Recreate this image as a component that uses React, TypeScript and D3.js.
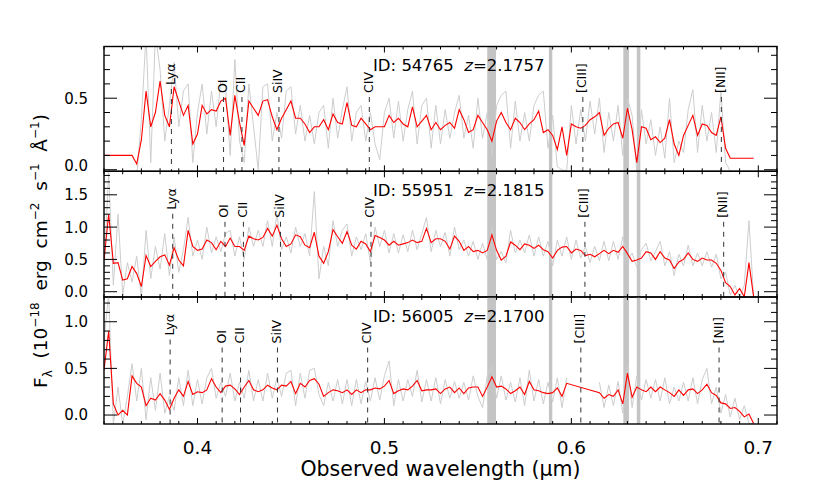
import React from 'react';
import * as d3 from 'd3';

// ---------------- data ----------------
const LAM_START = 0.35; // micron, first sample of the wavelength grid
const LAM_STEP = 0.0025; // micron per sample
const X_DOMAIN: [number, number] = [0.35, 0.71];
const X_MAJOR = [0.4, 0.5, 0.6, 0.7];

const ids = ['54765', '55951', '56005'];
const zLabels = ['2.1757', '2.1815', '2.1700'];
const zValues = [2.1757, 2.1815, 2.17];

const lineNames = ['Lyα', 'OI', 'CII', 'SiIV', 'CIV', '[CIII]', '[NII]'];
const lineRest = [1215.67, 1303.5, 1334.5, 1396.8, 1549.0, 1908.7, 2142.0]; // Angstrom

const skyBands: [number, number][] = [
  [0.555, 0.5597],
  [0.588, 0.5898],
  [0.6278, 0.6308],
  [0.635, 0.6369],
];

const yDomains: [number, number][] = [
  [-0.011, 0.8615],
  [-0.082, 1.864],
  [-0.096, 1.265],
];
const yMajor = [
  [0, 0.5],
  [0, 0.5, 1.0, 1.5],
  [0, 0.5, 1.0],
];

type V = number | null;

const red1: V[] = [
  0.10, 0.10, 0.10, 0.10, 0.10, 0.10, 0.10,
  0.04, 0.21, 0.55, 0.30, 0.40, 0.62, 0.38, 0.30, 0.58, 0.48, 0.38, 0.45, 0.18, 0.25,
  0.45, 0.39, 0.42, 0.41, 0.48, 0.50, 0.24, 0.52, 0.33, 0.17,
  0.48, 0.43, 0.38, 0.48, 0.49, 0.37, 0.28, 0.36, 0.42, 0.48,
  0.36, 0.36, 0.32, 0.26, 0.30, 0.30, 0.35, 0.28, 0.39, 0.33,
  0.32, 0.47, 0.31, 0.30, 0.36, 0.32, 0.28, 0.30, 0.30, 0.30,
  0.38, 0.33, 0.36, 0.32, 0.30, 0.44, 0.30, 0.34, 0.38, 0.28,
  0.33, 0.28, 0.31, 0.33, 0.29, 0.42, 0.35, 0.26, 0.28, 0.38,
  0.33, 0.28, 0.20, 0.34, 0.40, 0.33, 0.28, 0.36, 0.33, 0.28,
  0.32, 0.35, 0.41, 0.26, 0.28, 0.24, 0.14, 0.30, 0.10, 0.32,
  0.30, 0.29, 0.31, 0.35, 0.37, 0.40, 0.24, 0.29, 0.32, 0.33,
  0.22, 0.43, 0.28, 0.05, 0.30, 0.29, 0.21, 0.23, 0.19, 0.22,
  0.35, 0.18, 0.10, 0.24, 0.31, 0.38, 0.24, 0.32, 0.31, 0.26,
  0.24, 0.37, 0.15, 0.08, 0.08, 0.08, 0.08, 0.08, 0.08,
];
const grey1: V[] = [
  null, null, null, null, null, null, null,
  -0.05, 0.35, 0.95, 0.05, 0.95, 0.70, 0.20, 0.45, 0.75, 0.30, 0.55, 0.60, 0.05, 0.40,
  0.60, 0.25, 0.55, 0.30, 0.62, 0.58, 0.10, 0.77, 0.20, 0.05,
  0.60, 0.30, 0.00, 0.58, 0.60, 0.20, 0.40, 0.22, 0.55, 0.58,
  0.25, 0.45, 0.20, 0.38, 0.18, 0.40, 0.45, 0.15, 0.50, 0.22,
  0.42, 0.58, 0.20, 0.40, 0.45, 0.20, 0.40, 0.18, 0.07, 0.40,
  0.50, 0.22, 0.48, 0.20, 0.42, 0.55, 0.18, 0.45, 0.50, 0.15,
  0.45, 0.18, 0.42, 0.22, 0.40, 0.52, 0.22, 0.38, 0.15, 0.50,
  0.22, 0.40, 0.10, 0.45, 0.52, 0.55, 0.15, 0.48, 0.20, 0.40,
  0.20, 0.45, 0.52, 0.55, 0.15, 0.38, 0.02, 0.00, -0.01, 0.45,
  0.18, 0.42, 0.20, 0.48, 0.25, 0.50, 0.12, 0.40, 0.20, 0.45,
  0.10, 0.50, 0.38, -0.01, 0.42, 0.18, 0.35, 0.10, 0.30, 0.08,
  0.50, 0.05, 0.20, 0.12, 0.42, 0.56, 0.12, 0.45, 0.20, 0.40,
  0.12, 0.55, 0.05, -0.01, null, null, null, null, null,
];

const red2: V[] = [
  0.49, 1.20, 0.44, 0.45, 0.18, 0.20, 0.39, 0.28, 0.08, 0.56,
  0.39, 0.47, 0.54, 0.57, 0.41, 0.68, 0.49, 0.40, 0.95, 0.70,
  0.64, 0.66, 0.80, 0.76, 0.65, 0.78, 0.70, 0.83, 0.70, 0.70,
  0.64, 0.86, 0.82, 0.80, 0.84, 0.98, 0.86, 1.03, 0.82, 0.70,
  0.74, 0.88, 0.85, 0.72, 0.68, 0.92, 0.55, 0.44, 0.62, 0.96,
  0.85, 0.75, 0.93, 0.72, 0.66, 0.78, 0.74, 0.62, 0.87, 0.84,
  0.80, 0.72, 0.78, 0.72, 0.74, 0.76, 0.80, 0.76, 0.78, 0.98,
  0.76, 0.82, 0.82, 0.78, 0.66, 0.86, 0.78, 0.64, 0.70, 0.62,
  0.64, 0.60, 0.64, 0.88, 0.64, 0.49, 0.55, 0.77, 0.72, 0.65,
  0.74, 0.72, 0.67, 0.72, 0.65, 0.62, 0.52, 0.64, 0.69, 0.70,
  0.60, 0.66, 0.64, 0.56, 0.58, 0.54, 0.59, 0.64, 0.59, 0.64,
  0.61, 0.70, 0.59, 0.47, 0.49, 0.52, 0.62, 0.60, 0.50, 0.62,
  0.52, 0.49, 0.36, 0.46, 0.50, 0.60, 0.50, 0.47, 0.52, 0.49,
  0.49, 0.44, 0.33, 0.14, 0.08, -0.05, 0.05, -0.08, 0.45, -0.08,
];
const grey2: V[] = [
  0.30, 1.85, 0.10, 1.20, -0.05, 0.45, 0.15, 0.55, -0.09, 0.95,
  0.20, 0.70, 0.35, 0.90, 0.25, 0.85, 0.30, 0.65, 1.15, 0.55,
  0.80, 0.50, 1.00, 0.60, 0.85, 0.62, 0.90, 0.95, 0.55, 0.85,
  0.50, 1.00, 0.70, 0.95, 0.70, 1.10, 0.70, 1.20, 0.65, 0.85,
  0.60, 1.00, 0.70, 0.90, 0.55, 1.55, 0.20, 0.70, 0.40, 1.10,
  0.70, 0.95, 1.05, 0.55, 0.85, 0.65, 0.90, 0.45, 1.00, 0.70,
  0.95, 0.60, 0.90, 0.60, 0.88, 0.62, 0.95, 0.65, 0.90, 1.15,
  0.62, 0.95, 0.70, 0.92, 0.55, 1.00, 0.65, 0.80, 0.55, 0.78,
  0.50, 0.75, 0.50, 1.00, 0.50, 0.62, 0.45, 0.95, 0.60, 0.80,
  0.60, 0.88, 0.55, 0.85, 0.55, 0.78, 0.40, 0.80, 0.55, 0.85,
  0.50, 0.80, 0.52, 0.70, 0.45, 0.70, 0.48, 0.78, 0.48, 0.78,
  0.50, 0.85, 0.48, 0.60, 0.38, 0.65, 0.75, 0.48, 0.62, 0.78,
  0.40, 0.62, 0.25, 0.58, 0.40, 0.72, 0.40, 0.60, 0.40, 0.62,
  0.38, 0.58, 0.20, 0.30, -0.05, 0.10, -0.09, 0.10, 1.10, -0.09,
];

const red3: V[] = [
  0.48, 0.90, 0.12, 0.00, 0.05, 0.00, 0.42, 0.34, 0.30, 0.10,
  0.18, 0.16, 0.23, 0.16, 0.06, 0.18, 0.27, 0.20, 0.36, 0.22,
  0.25, 0.24, 0.27, 0.39, 0.30, 0.24, 0.31, 0.32, 0.28, 0.22,
  0.30, 0.37, 0.27, 0.25, 0.27, 0.32, 0.29, 0.27, 0.32, 0.31,
  0.36, 0.23, 0.34, 0.30, 0.37, 0.39, 0.33, 0.20, 0.24, 0.27,
  0.26, 0.24, 0.27, 0.22, 0.27, 0.24, 0.27, 0.27, 0.29, 0.28,
  0.31, 0.37, 0.23, 0.26, 0.28, 0.27, 0.31, 0.37, 0.26, 0.27,
  0.27, 0.28, 0.23, 0.28, 0.30, 0.24, 0.29, 0.23, 0.29, 0.30,
  0.30, 0.20, 0.30, 0.41, 0.30, 0.31, 0.28, 0.23, 0.26, 0.30,
  0.22, 0.36, 0.27, 0.26, 0.24, 0.23, 0.24, 0.29, 0.20, 0.34,
  null, null, null, null, null, null, 0.24, 0.18, 0.22, 0.20,
  0.27, 0.12, 0.45, 0.19, 0.30, 0.27, 0.25, 0.30, 0.25, 0.30,
  0.27, 0.24, 0.20, 0.27, 0.21, 0.27, 0.28, 0.23, 0.27, 0.33,
  0.24, 0.21, 0.13, 0.12, 0.07, 0.08, 0.04, -0.02, 0.01, -0.09,
];
const grey3: V[] = [
  0.80, 1.30, -0.10, 0.30, -0.10, 0.20, 0.55, 0.15, 0.50, -0.05,
  0.40, 0.05, 0.45, 0.02, 0.20, 0.05, 0.40, 0.10, 0.48, 0.10,
  0.38, 0.12, 0.40, 0.50, 0.18, 0.35, 0.20, 0.45, 0.15, 0.35,
  0.18, 0.48, 0.15, 0.38, 0.15, 0.45, 0.18, 0.40, 0.20, 0.45,
  0.48, 0.10, 0.45, 0.18, 0.48, 0.50, 0.22, 0.10, 0.35, 0.15,
  0.38, 0.12, 0.38, 0.10, 0.38, 0.12, 0.36, 0.15, 0.40, 0.16,
  0.42, 0.58, 0.10, 0.38, 0.15, 0.38, 0.20, 0.48, 0.14, 0.38,
  0.15, 0.40, 0.12, 0.38, 0.18, 0.36, 0.18, 0.35, 0.16, 0.42,
  0.20, 0.08, 0.42, 0.52, 0.18, 0.42, 0.16, 0.35, 0.14, 0.40,
  0.10, 0.48, 0.15, 0.38, 0.12, 0.35, 0.14, 0.40, 0.08, 0.40,
  null, null, null, null, null, null, 0.35, 0.08, 0.32, 0.10,
  0.36, 0.02, 0.52, 0.08, 0.42, 0.16, 0.38, 0.18, 0.38, 0.15,
  0.40, 0.12, 0.30, 0.15, 0.35, 0.15, 0.40, 0.12, 0.38, 0.50,
  0.12, 0.30, 0.02, 0.22, -0.02, 0.18, -0.05, 0.10, -0.09, -0.09,
];

const redSeries = [red1, red2, red3];
const greySeries = [grey1, grey2, grey3];

// ---------------- layout ----------------
const PLOT_L = 104;
const PLOT_R = 777;
const panelTop = [46.5, 171.3, 297];
const panelBottom = [171.3, 297, 424];
const FONT = 'DejaVu Sans, Verdana, sans-serif';

export default function App() {
  const x = d3.scaleLinear().domain(X_DOMAIN).range([PLOT_L, PLOT_R]);
  const minorX = d3.range(0.35, 0.7101, 0.01).map((v) => Math.round(v * 100) / 100);

  const panels = [0, 1, 2].map((p) => {
    const top = panelTop[p];
    const bot = panelBottom[p];
    const y = d3.scaleLinear().domain(yDomains[p]).range([bot, top]);
    const lam = (i: number) => LAM_START + i * LAM_STEP;

    const redPts = redSeries[p]
      .map((v, i) => [lam(i), v] as [number, V])
      .filter((d) => d[1] !== null) as [number, number][];
    const redPath = d3
      .line<[number, number]>()
      .x((d) => x(d[0]))
      .y((d) => y(d[1]))(redPts);
    const greyPath = d3
      .line<[number, V]>()
      .defined((d) => d[1] !== null)
      .x((d) => x(d[0]))
      .y((d) => y(d[1] as number))(greySeries[p].map((v, i) => [lam(i), v] as [number, V]));

    const [y0, y1] = yDomains[p];
    const minorY = d3
      .range(Math.ceil(y0 * 10), Math.floor(y1 * 10) + 1)
      .map((k) => k / 10)
      .filter((v) => !yMajor[p].some((m) => Math.abs(m - v) < 1e-6));

    const clipId = `clip${p}`;
    return (
      <g key={p}>
        <defs>
          <clipPath id={clipId}>
            <rect x={PLOT_L} y={top} width={PLOT_R - PLOT_L} height={bot - top} />
          </clipPath>
        </defs>
        {skyBands.map((b, k) => (
          <rect
            key={k}
            x={x(b[0])}
            y={top}
            width={x(b[1]) - x(b[0])}
            height={bot - top}
            fill="#c4c4c4"
          />
        ))}
        <g clipPath={`url(#${clipId})`}>
          <path d={greyPath || ''} fill="none" stroke="#cdcdcd" strokeWidth={1} />
          <path d={redPath || ''} fill="none" stroke="#ff0000" strokeWidth={1.1} />
        </g>
        {lineNames.map((name, k) => {
          const lx = x((lineRest[k] * (1 + zValues[p])) / 1e4);
          const isLya = k === 0;
          const labelBottom = top + (isLya ? 38.5 : 46.5);
          const dashTop = labelBottom + 4;
          return (
            <g key={name}>
              <line
                x1={lx}
                x2={lx}
                y1={dashTop}
                y2={bot}
                stroke="#333"
                strokeWidth={1}
                strokeDasharray="5,5"
              />
              <text
                transform={`translate(${lx + 3.5},${labelBottom}) rotate(-90)`}
                fontFamily={FONT}
                fontSize={12.5}
                fill="#000"
              >
                {name}
              </text>
            </g>
          );
        })}
        <text x={373} y={top + 24.5} fontFamily={FONT} fontSize={16.5} fill="#000" xmlSpace="preserve">
          {`ID: ${ids[p]}  `}
          <tspan fontStyle="italic">z</tspan>
          {`=${zLabels[p]}`}
        </text>
        {yMajor[p].map((v) => (
          <g key={`ym${v}`}>
            <line x1={PLOT_L} x2={PLOT_L + 13} y1={y(v)} y2={y(v)} stroke="#000" strokeWidth={1} />
            <line x1={PLOT_R} x2={PLOT_R - 13} y1={y(v)} y2={y(v)} stroke="#000" strokeWidth={1} />
            <text
              x={88}
              y={y(v) - (p === 0 && v === 0 ? 4 : 0)}
              dy="0.36em"
              textAnchor="end"
              fontFamily={FONT}
              fontSize={15}
              fill="#000"
            >
              {d3.format('.1f')(v)}
            </text>
          </g>
        ))}
        {minorY.map((v) => (
          <g key={`yn${v}`}>
            <line x1={PLOT_L} x2={PLOT_L + 6} y1={y(v)} y2={y(v)} stroke="#000" strokeWidth={1} />
            <line x1={PLOT_R} x2={PLOT_R - 6} y1={y(v)} y2={y(v)} stroke="#000" strokeWidth={1} />
          </g>
        ))}
        {minorX.map((v) => {
          const major = X_MAJOR.some((m) => Math.abs(m - v) < 1e-6);
          const len = major ? 6 : 3;
          return (
            <g key={`xt${v}`}>
              <line x1={x(v)} x2={x(v)} y1={bot} y2={bot - len} stroke="#000" strokeWidth={1} />
              <line x1={x(v)} x2={x(v)} y1={top} y2={top + len} stroke="#000" strokeWidth={1} />
            </g>
          );
        })}
        <rect
          x={PLOT_L}
          y={top}
          width={PLOT_R - PLOT_L}
          height={bot - top}
          fill="none"
          stroke="#000"
          strokeWidth={1.4}
        />
      </g>
    );
  });

  return (
    <svg
      width={830}
      height={484}
      style={{ position: 'absolute', left: 0, top: 0, background: '#fff' }}
    >
      <rect x={0} y={0} width={830} height={484} fill="#fff" />
      {panels}
      {X_MAJOR.map((v) => (
        <text
          key={`xl${v}`}
          x={x(v)}
          y={454}
          textAnchor="middle"
          fontFamily={FONT}
          fontSize={18.5}
          fill="#000"
        >
          {d3.format('.1f')(v)}
        </text>
      ))}
      <text x={440.5} y={476} textAnchor="middle" fontFamily={FONT} fontSize={20.5} fill="#000">
        Observed wavelength (<tspan>μ</tspan>m)
      </text>
      <text
        transform="translate(47,251) rotate(-90)"
        textAnchor="middle"
        fontFamily={FONT}
        fontSize={18.5}
        fill="#000"
        xmlSpace="preserve"
      >
        {'F'}
        <tspan fontSize={12} dy={5}>λ</tspan>
        <tspan dy={-5}>{'  (10'}</tspan>
        <tspan fontSize={12} dy={-8}>−18</tspan>
        <tspan dy={8}>{'  erg  cm'}</tspan>
        <tspan fontSize={12} dy={-8}>−2</tspan>
        <tspan dy={8}>{'  s'}</tspan>
        <tspan fontSize={12} dy={-8}>−1</tspan>
        <tspan dy={8}>{'  Å'}</tspan>
        <tspan fontSize={12} dy={-8}>−1</tspan>
        <tspan dy={8}>)</tspan>
      </text>
    </svg>
  );
}
